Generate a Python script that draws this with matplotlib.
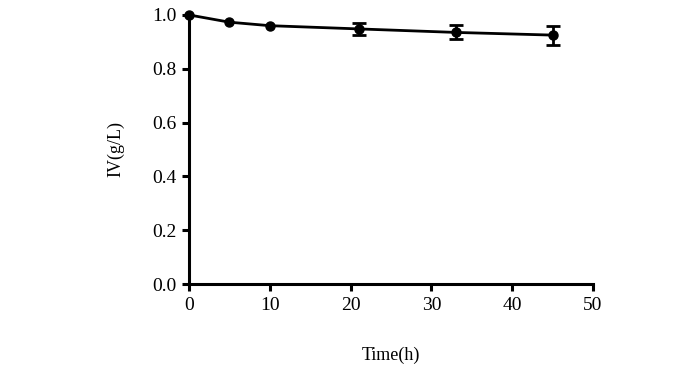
import matplotlib
matplotlib.use("Agg")
import matplotlib.pyplot as plt

time_h = [0, 5, 10, 21, 33, 45]
iv = [1.0, 0.973, 0.960, 0.948, 0.935, 0.925]
iv_err = [0.0, 0.0, 0.0, 0.022, 0.026, 0.035]

plt.rcParams['font.family'] = ['Liberation Serif', 'DejaVu Serif']

fig = plt.figure(figsize=(7, 3.73), dpi=100)
ax = fig.add_axes([0.27, 0.2386, 0.577, 0.7214])

ax.plot(time_h, iv, color='black', linewidth=2, marker='o', markersize=6.5,
        clip_on=False, zorder=3)
# error bars only where they are visible
ex = [t for t, e in zip(time_h, iv_err) if e > 0]
ey = [v for v, e in zip(iv, iv_err) if e > 0]
ee = [e for e in iv_err if e > 0]
ax.errorbar(ex, ey, yerr=ee, fmt='none', ecolor='black', capsize=5,
            capthick=2, elinewidth=2, clip_on=False, zorder=3)

ax.set_xlim(0, 50)
ax.set_ylim(0, 1.0)
ax.set_xticks([0, 10, 20, 30, 40, 50])
ax.set_yticks([0.0, 0.2, 0.4, 0.6, 0.8, 1.0])
ax.set_yticklabels(['0.0', '0.2', '0.4', '0.6', '0.8', '1.0'])

for s in ['top', 'right']:
    ax.spines[s].set_visible(False)
for s in ['left', 'bottom']:
    ax.spines[s].set_linewidth(2.2)

ax.tick_params(direction='out', length=5, width=2.2, labelsize=14, pad=4)
ax.set_xlabel('Time(h)', fontsize=13, labelpad=24)
ax.set_ylabel('IV(g/L)', fontsize=13, labelpad=20)

fig.savefig('out.png', dpi=100)
